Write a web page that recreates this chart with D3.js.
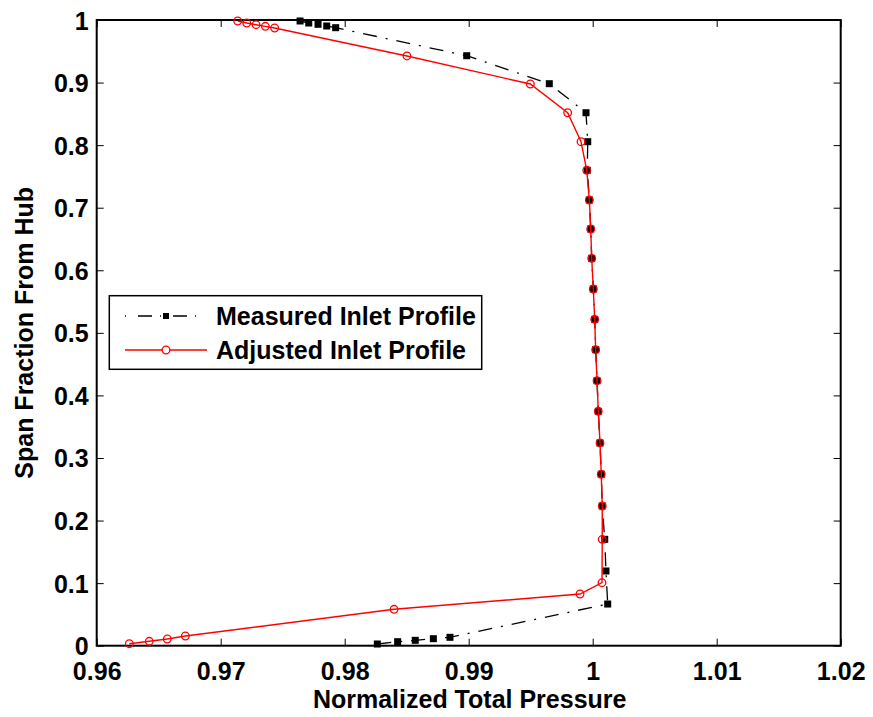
<!DOCTYPE html>
<html>
<head>
<meta charset="utf-8">
<script src="https://cdn.jsdelivr.net/npm/d3@7"></script>
<style>
  html, body { margin: 0; padding: 0; background: #fff; }
  svg { display: block; }
  text { font-family: "Liberation Sans", Arial, Helvetica, sans-serif; font-weight: bold; fill: #000; }
</style>
</head>
<body>
<svg id="chart" width="873" height="717"></svg>
<script>
// ---- data ----
const measuredSpan = [0.0027, 0.0064, 0.0086, 0.0112, 0.0134, 0.0666, 0.1194, 0.1700, 0.2233, 0.2740, 0.3240, 0.3746, 0.4235, 0.4731, 0.5216, 0.5701, 0.6191, 0.6660, 0.7123, 0.7598, 0.8055, 0.8518, 0.8982, 0.9429, 0.9877, 0.9904, 0.9931, 0.9952, 0.9984];
const measuredPressure = [0.98263, 0.98427, 0.98569, 0.98715, 0.98849, 1.00121, 1.00107, 1.00097, 1.00077, 1.00069, 1.00059, 1.00045, 1.00035, 1.00024, 1.00016, 1.00005, 0.99992, 0.99984, 0.99973, 0.99956, 0.99960, 0.99946, 0.99650, 0.98984, 0.97927, 0.97855, 0.97785, 0.97710, 0.97640];

const adjustedSpan = [0.0032, 0.0070, 0.0107, 0.0155, 0.0582, 0.0826, 0.1007, 0.1700, 0.2233, 0.2740, 0.3240, 0.3746, 0.4235, 0.4731, 0.5216, 0.5701, 0.6191, 0.6660, 0.7123, 0.7598, 0.8055, 0.8518, 0.8977, 0.9425, 0.9872, 0.9899, 0.9925, 0.9952, 0.9984];
const adjustedPressure = [0.96263, 0.96424, 0.96569, 0.96715, 0.98398, 0.99898, 1.00075, 1.00077, 1.00077, 1.00069, 1.00059, 1.00045, 1.00035, 1.00024, 1.00016, 1.00005, 0.99992, 0.99984, 0.99973, 0.99952, 0.99906, 0.99798, 0.99497, 0.98502, 0.97435, 0.97360, 0.97285, 0.97210, 0.97137];

const xTicks = [0.96, 0.97, 0.98, 0.99, 1.00, 1.01, 1.02];
const xTickLabels = ["0.96", "0.97", "0.98", "0.99", "1", "1.01", "1.02"];
const yTicks = [0, 0.1, 0.2, 0.3, 0.4, 0.5, 0.6, 0.7, 0.8, 0.9, 1];
const yTickLabels = ["0", "0.1", "0.2", "0.3", "0.4", "0.5", "0.6", "0.7", "0.8", "0.9", "1"];
const seriesNames = ["Measured Inlet Profile", "Adjusted Inlet Profile"];
const xTitle = "Normalized Total Pressure";
const yTitle = "Span Fraction From Hub";

// ---- layout ----
const L = 96.7, R = 840.7, T = 20, B = 645.7;
const svg = d3.select("#chart");
const x = d3.scaleLinear().domain([0.96, 1.02]).range([L, R]);
const y = d3.scaleLinear().domain([0, 1]).range([B, T]);

const tickLen = 7;
const fontSize = 25;

const fmtX = (d) => xTickLabels[xTicks.indexOf(d)];
const fmtY = (d) => yTickLabels[yTicks.indexOf(d)];

const gxB = svg.append("g").attr("transform", `translate(0,${B})`)
  .call(d3.axisBottom(x).tickValues(xTicks).tickFormat(fmtX).tickSizeInner(-tickLen).tickSizeOuter(0));
const gxT = svg.append("g").attr("transform", `translate(0,${T})`)
  .call(d3.axisTop(x).tickValues(xTicks).tickFormat("").tickSizeInner(-tickLen).tickSizeOuter(0));
const gyL = svg.append("g").attr("transform", `translate(${L},0)`)
  .call(d3.axisLeft(y).tickValues(yTicks).tickFormat(fmtY).tickSizeInner(-tickLen).tickSizeOuter(0).tickPadding(8));
const gyR = svg.append("g").attr("transform", `translate(${R},0)`)
  .call(d3.axisRight(y).tickValues(yTicks).tickFormat("").tickSizeInner(-tickLen).tickSizeOuter(0));

[gxB, gxT, gyL, gyR].forEach(g => {
  g.select(".domain").remove();
  g.selectAll(".tick line").attr("stroke", "#000").attr("stroke-width", 1);
  g.selectAll("text").attr("font-size", fontSize).attr("font-family", null).style("fill", "#000");
});
gxB.selectAll(".tick text").attr("dy", null).attr("y", 680 - B);
gyL.selectAll(".tick text").attr("dy", "0.36em");

// frame
svg.append("rect").attr("x", L).attr("y", T).attr("width", R - L).attr("height", B - T)
  .attr("fill", "none").attr("stroke", "#000").attr("stroke-width", 2);

const measured = measuredSpan.map((s, i) => ({ s, p: measuredPressure[i] }));
const adjusted = adjustedSpan.map((s, i) => ({ s, p: adjustedPressure[i] }));
const line = d3.line().x(d => x(d.p)).y(d => y(d.s));

const plot = svg.append("g");

// measured: black dash-dot with filled squares
plot.append("path").datum(measured).attr("d", line)
  .attr("fill", "none").attr("stroke", "#000").attr("stroke-width", 1.3)
  .attr("stroke-dasharray", "14,9,2,9");
const sq = 7;
plot.selectAll(".sq").data(measured).enter().append("rect")
  .attr("x", d => x(d.p) - sq / 2).attr("y", d => y(d.s) - sq / 2)
  .attr("width", sq).attr("height", sq).attr("fill", "#000");

// adjusted: red solid with open circles
plot.append("path").datum(adjusted).attr("d", line)
  .attr("fill", "none").attr("stroke", "#ff0000").attr("stroke-width", 1.4);
plot.selectAll(".ci").data(adjusted).enter().append("circle")
  .attr("cx", d => x(d.p)).attr("cy", d => y(d.s)).attr("r", 3.8)
  .attr("fill", "none").attr("stroke", "#ff0000").attr("stroke-width", 1.3);

// axis titles
svg.append("text").attr("x", (L + R) / 2 + 1).attr("y", 708).attr("text-anchor", "middle")
  .attr("font-size", fontSize).text(xTitle);
svg.append("text").attr("transform", `translate(33,${(T + B) / 2}) rotate(-90)`)
  .attr("text-anchor", "middle").attr("font-size", fontSize).text(yTitle);

// legend
const lg = svg.append("g");
lg.append("rect").attr("x", 109.3).attr("y", 295.7).attr("width", 372.4).attr("height", 73.6)
  .attr("fill", "#fff").attr("stroke", "#000").attr("stroke-width", 1.5);
const rows = [316, 350];
lg.append("line").attr("x1", 125).attr("x2", 207).attr("y1", rows[0]).attr("y2", rows[0])
  .attr("stroke", "#000").attr("stroke-width", 1.3).attr("stroke-dasharray", "1,12,14,8,0,0");
lg.append("rect").attr("x", 166 - 3).attr("y", rows[0] - 3).attr("width", 6).attr("height", 6).attr("fill", "#000");
lg.append("line").attr("x1", 125).attr("x2", 207).attr("y1", rows[1]).attr("y2", rows[1])
  .attr("stroke", "#ff0000").attr("stroke-width", 1.4);
lg.append("circle").attr("cx", 166).attr("cy", rows[1]).attr("r", 3.8)
  .attr("fill", "#fff").attr("stroke", "#ff0000").attr("stroke-width", 1.3);
seriesNames.forEach((n, i) => {
  lg.append("text").attr("x", 216).attr("y", rows[i] + 9).attr("font-size", fontSize).text(n);
});
</script>
</body>
</html>
